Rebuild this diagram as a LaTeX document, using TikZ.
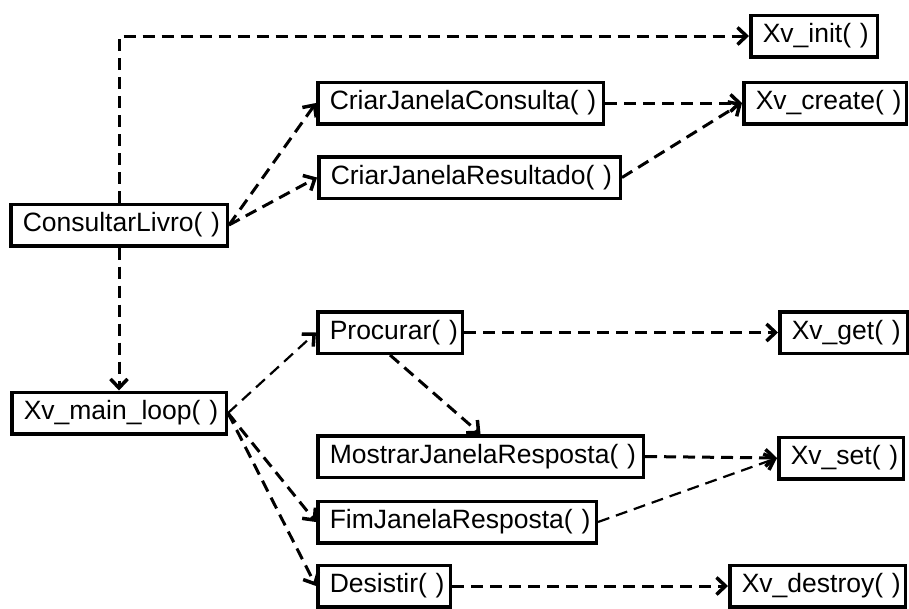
\documentclass[tikz,border=0pt]{standalone}
\usepackage{fontspec}
\setmainfont{Liberation Sans}
\usetikzlibrary{arrows.meta}
\tikzset{
  box/.style={draw,line width=3.5pt,inner xsep=12pt,inner ysep=2pt,minimum height=41.5pt,
    text width=#1,align=left,font=\fontsize{26.5}{30}\selectfont},
  call/.style={line width=#1,dash pattern=on 12pt off 7pt,
    -{Straight Barb[length=9pt,width=17pt,line width=3.5pt]}},
  call/.default=3pt
}
\begin{document}
\begin{tikzpicture}[x=1pt,y=-1pt]
  \useasboundingbox (0,0) rectangle (909,608);
  % callers on the left:
  \node[box=192.5] (consultar) at (119,225) {ConsultarLivro(~)};
  \node[box=190.5] (mainloop) at (119,413) {Xv\_main\_loop(~)};
  % functions in the middle:
  \node[box=261.5] (criarcons) at (460.5,103) {CriarJanelaConsulta(~)};
  \node[box=277.5] (criarres) at (469.5,177.5) {CriarJanelaResultado(~)};
  \node[box=120.5] (procurar) at (390,332.5) {Procurar(~)};
  \node[box=301.5] (mostrar) at (480.5,456.5) {MostrarJanelaResposta(~)};
  \node[box=254.5] (fim) at (457,522) {FimJanelaResposta(~)};
  \node[box=108.5] (desistir) at (384,586) {Desistir(~)};
  % Xv calls on the right:
  \node[box=102.5] (init) at (814,36) {Xv\_init(~)};
  \node[box=138.5] (create) at (825,103) {Xv\_create(~)};
  \node[box=103.5] (get) at (843.5,332.5) {Xv\_get(~)};
  \node[box=100.5] (set) at (841,458) {Xv\_set(~)};
  \node[box=151.5] (destroy) at (817.5,586) {Xv\_destroy(~)};
  % calls of ConsultarLivro:
  \draw[call] (consultar.north) |- (init.west);
  \draw[call] (consultar.south) -- (mainloop.north);
  \draw[call] (consultar.east) -- (criarcons.west);
  \draw[call] (consultar.east) -- (criarres.west);
  \draw[call] (criarcons.east) -- (create.west);
  \draw[call] (criarres.east) -- (create.west);
  % calls of the main loop:
  \draw[call=2.2pt] (mainloop.east) -- (procurar.west);
  \draw[call] (mainloop.east) -- (fim.west);
  \draw[call] (mainloop.east) -- (desistir.west);
  \draw[call] (procurar.south) -- (mostrar.north);
  \draw[call=2.2pt] (procurar.east) -- (get.west);
  \draw[call] (mostrar.east) -- (set.west);
  \draw[call=2.2pt] (fim.east) -- (set.west);
  \draw[call] (desistir.east) -- (destroy.west);
\end{tikzpicture}
\end{document}
